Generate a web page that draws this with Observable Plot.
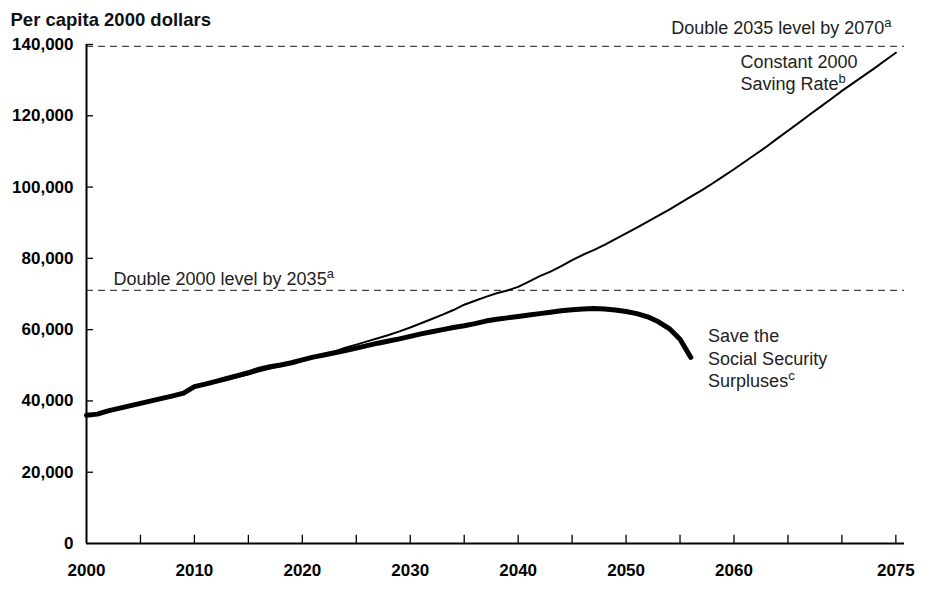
<!DOCTYPE html>
<html>
<head>
<meta charset="utf-8">
<script src="https://cdn.jsdelivr.net/npm/d3@7"></script>
<script src="https://cdn.jsdelivr.net/npm/@observablehq/plot@0.6"></script>
<style>
  body { margin: 0; background: #fff; }
</style>
</head>
<body>
<div id="chart"></div>
<script>
// ---- Data ----
const constantYears = [2000,2001,2002,2003,2004,2005,2006,2007,2008,2009,2010,2011,2012,2013,2014,2015,2016,2017,2018,2019,2020,2021,2022,2023,2024,2025,2026,2027,2028,2029,2030,2031,2032,2033,2034,2035,2036,2037,2038,2039,2040,2041,2042,2043,2044,2045,2046,2047,2048,2049,2050,2051,2052,2053,2054,2055,2056,2057,2058,2059,2060,2061,2062,2063,2064,2065,2066,2067,2068,2069,2070,2071,2072,2073,2074,2075];
const constantValues = [36000,36200,37000,37700,38400,39100,39800,40500,41200,42000,43800,44500,45200,45900,46700,47500,48300,49100,49800,50600,51400,52200,53000,53900,54900,55800,56700,57600,58500,59500,60600,61800,63000,64200,65500,67000,68100,69200,70200,71000,72000,73500,75000,76300,77800,79500,81000,82300,83800,85400,87000,88600,90300,92000,93700,95500,97300,99100,101000,103000,105000,107100,109200,111300,113600,115800,118000,120300,122500,124700,127000,129100,131200,133300,135500,137700];

const surplusYears = [2000,2001,2002,2003,2004,2005,2006,2007,2008,2009,2010,2011,2012,2013,2014,2015,2016,2017,2018,2019,2020,2021,2022,2023,2024,2025,2026,2027,2028,2029,2030,2031,2032,2033,2034,2035,2036,2037,2038,2039,2040,2041,2042,2043,2044,2045,2046,2047,2048,2049,2050,2051,2052,2053,2054,2055,2056];
const surplusValues = [36000,36300,37200,37900,38600,39300,40000,40700,41400,42200,44000,44700,45500,46300,47100,47900,48900,49600,50100,50700,51500,52300,52900,53500,54100,54800,55500,56200,56800,57400,58100,58800,59400,60000,60600,61100,61700,62400,62900,63300,63700,64100,64500,64900,65300,65600,65800,65900,65800,65500,65100,64500,63600,62200,60300,57300,52200];

const targetLevels = [71000, 139500];

const xTickYears = [2005,2010,2015,2020,2025,2030,2035,2040,2045,2050,2055,2060,2065,2070,2075];
const xLabelYears = [2000,2010,2020,2030,2040,2050,2060,2075];
const yTickValues = [20000,40000,60000,80000,100000,120000,140000];
const yLabelValues = [0,20000,40000,60000,80000,100000,120000,140000];

const titleText = "Per capita 2000 dollars";
const leftNoteTexts = ["Double 2000 level by 2035^a", "Constant 2000\nSaving Rate^b", "Save the\nSocial Security\nSurpluses^c"];
const leftNoteX = [2002.5, 2060.6, 2057.6];
const leftNoteY = [72600, 127100, 43800];
const rightNoteTexts = ["Double 2035 level by 2070^a"];
const rightNoteX = [2074.6];
const rightNoteY = [143000];

// ---- Tables built from arrays ----
const constantData = constantYears.map((year, i) => ({year, value: constantValues[i]}));
const surplusData = surplusYears.map((year, i) => ({year, value: surplusValues[i]}));
const leftNotes = leftNoteTexts.map((text, i) => ({text, x: leftNoteX[i], y: leftNoteY[i]}));
const rightNotes = rightNoteTexts.map((text, i) => ({text, x: rightNoteX[i], y: rightNoteY[i]}));

const FONT = "'Liberation Sans', Arial, Helvetica, sans-serif";

const chart = Plot.plot({
  width: 932,
  height: 598,
  marginLeft: 86,
  marginRight: 28,
  marginTop: 44,
  marginBottom: 55,
  x: {domain: [2000, 2075.8]},
  y: {domain: [0, 140000]},
  style: {fontFamily: FONT, background: "#fff", color: "#000", overflow: "visible"},
  marks: [
    // target dashed lines
    Plot.ruleY(targetLevels, {stroke: "#444", strokeWidth: 1.3, strokeDasharray: "7,5"}),
    // axes lines
    Plot.ruleY([0], {stroke: "#000", strokeWidth: 2}),
    Plot.ruleX([2000], {y1: 0, y2: 140000, stroke: "#000", strokeWidth: 2}),
    // inward ticks
    Plot.ruleX(xTickYears, {y1: 0, y2: 2300, stroke: "#000", strokeWidth: 1.3}),
    Plot.ruleY(yTickValues, {x1: 2000, x2: 2000.65, stroke: "#000", strokeWidth: 1.3}),
    // tick labels
    Plot.axisX({ticks: xLabelYears, tickSize: 0, tickPadding: 20, tickFormat: d => String(d), fontSize: 17, fontWeight: "bold", label: null}),
    Plot.axisY({ticks: yLabelValues, tickSize: 0, tickPadding: 13, tickFormat: d3.format(","), fontSize: 17, fontWeight: "bold", label: null}),
    // series
    Plot.line(constantData, {x: "year", y: "value", stroke: "#000", strokeWidth: 2}),
    Plot.line(surplusData, {x: "year", y: "value", stroke: "#000", strokeWidth: 5, strokeLinecap: "round", strokeLinejoin: "round"}),
    // annotations
    Plot.text(leftNotes, {x: "x", y: "y", text: "text", textAnchor: "start", lineAnchor: "bottom", lineHeight: 1.25, fontSize: 18, fill: "#222"}),
    Plot.text(rightNotes, {x: "x", y: "y", text: "text", textAnchor: "end", lineAnchor: "bottom", fontSize: 18, fill: "#222"}),
    // title
    Plot.text([titleText], {frameAnchor: "top-left", text: d => d, dx: -76, dy: -19, textAnchor: "start", lineAnchor: "bottom", fontSize: 18.5, fontWeight: "bold", fill: "#111"})
  ]
});

// superscripts for footnote markers
chart.querySelectorAll("text, tspan").forEach(el => {
  Array.from(el.childNodes).forEach(node => {
    if (node.nodeType === 3 && node.nodeValue.includes("^")) {
      const [main, sup] = node.nodeValue.split("^");
      node.nodeValue = main;
      const t = document.createElementNS("http://www.w3.org/2000/svg", "tspan");
      t.setAttribute("dy", "-7");
      t.setAttribute("font-size", "13");
      t.textContent = sup;
      el.insertBefore(t, node.nextSibling);
    }
  });
});

document.getElementById("chart").appendChild(chart);
</script>
</body>
</html>
